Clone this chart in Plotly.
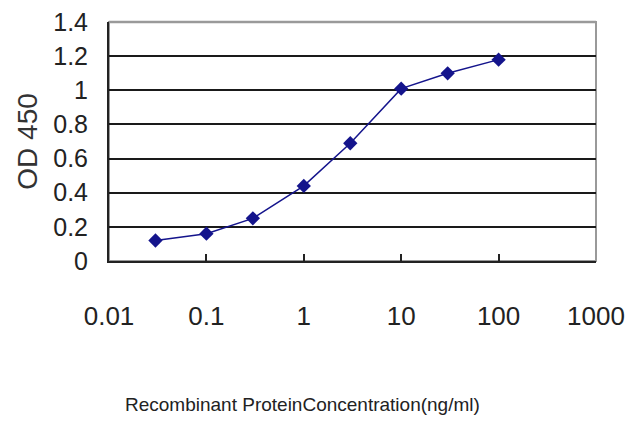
import plotly.graph_objects as go

# concentrations (ng/ml) and OD450 readings
conc = [0.03, 0.1, 0.3, 1, 3, 10, 30, 100]
od450 = [0.12, 0.16, 0.25, 0.44, 0.69, 1.01, 1.10, 1.18]

x_ticks = [0.01, 0.1, 1, 10, 100, 1000]
x_ticklabels = ["0.01", "0.1", "1", "10", "100", "1000"]
y_ticks = [0, 0.2, 0.4, 0.6, 0.8, 1, 1.2, 1.4]
y_ticklabels = ["0", "0.2", "0.4", "0.6", "0.8", "1", "1.2", "1.4"]

navy = "#14148c"

fig = go.Figure(
    data=go.Scatter(x=conc, y=od450, mode="lines+markers",
                    line=dict(color=navy, width=1.5),
                    marker=dict(symbol="diamond", size=11, color=navy),
                    hoverinfo="skip")
)

# page body has an 8px margin, so the margins below are shifted for it
fig.update_layout(
    width=640, height=427,
    showlegend=False,
    margin=dict(l=101, r=52, t=14, b=174, autoexpand=False),
    plot_bgcolor="white", paper_bgcolor="white",
    font=dict(family="Liberation Sans, Arial, sans-serif", color="#222222"),
    annotations=[
        dict(text="OD 450", xref="paper", yref="paper", x=-0.168, y=0.5,
             textangle=-90, showarrow=False, xanchor="center", yanchor="middle",
             font=dict(size=28, color="#333333")),
        dict(text="Recombinant ProteinConcentration(ng/ml)", xref="paper", yref="paper",
             x=0.398, y=-0.6, showarrow=False, xanchor="center", yanchor="middle",
             font=dict(size=19, color="#222222")),
    ],
)

fig.update_xaxes(
    type="log", range=[-2, 3],
    tickvals=x_ticks, ticktext=x_ticklabels,
    ticks="inside", ticklen=7, tickwidth=1.5, tickcolor="#222222",
    tickfont=dict(size=26), ticklabelstandoff=31,
    showgrid=False, zeroline=False,
    showline=True, linecolor="#222222", linewidth=2,
    mirror=False,
)

fig.update_yaxes(
    range=[0, 1.4005],
    tickvals=y_ticks, ticktext=y_ticklabels,
    ticks="", tickfont=dict(size=25),
    ticklabelstandoff=14, ticklabeloverflow="allow",
    showgrid=True, gridcolor="#1a1a1a", gridwidth=2,
    zeroline=False,
    showline=True, linecolor="#222222", linewidth=2,
)

# gray frame on top and right
fig.add_shape(type="rect", xref="paper", yref="paper", x0=0, y0=0, x1=1, y1=1,
              line=dict(color="#999999", width=2), layer="below")
fig.add_shape(type="line", xref="paper", yref="paper", x0=0, y0=1, x1=1, y1=1,
              line=dict(color="#9a9a9a", width=2.5), layer="above")

fig.write_html("out.html")
